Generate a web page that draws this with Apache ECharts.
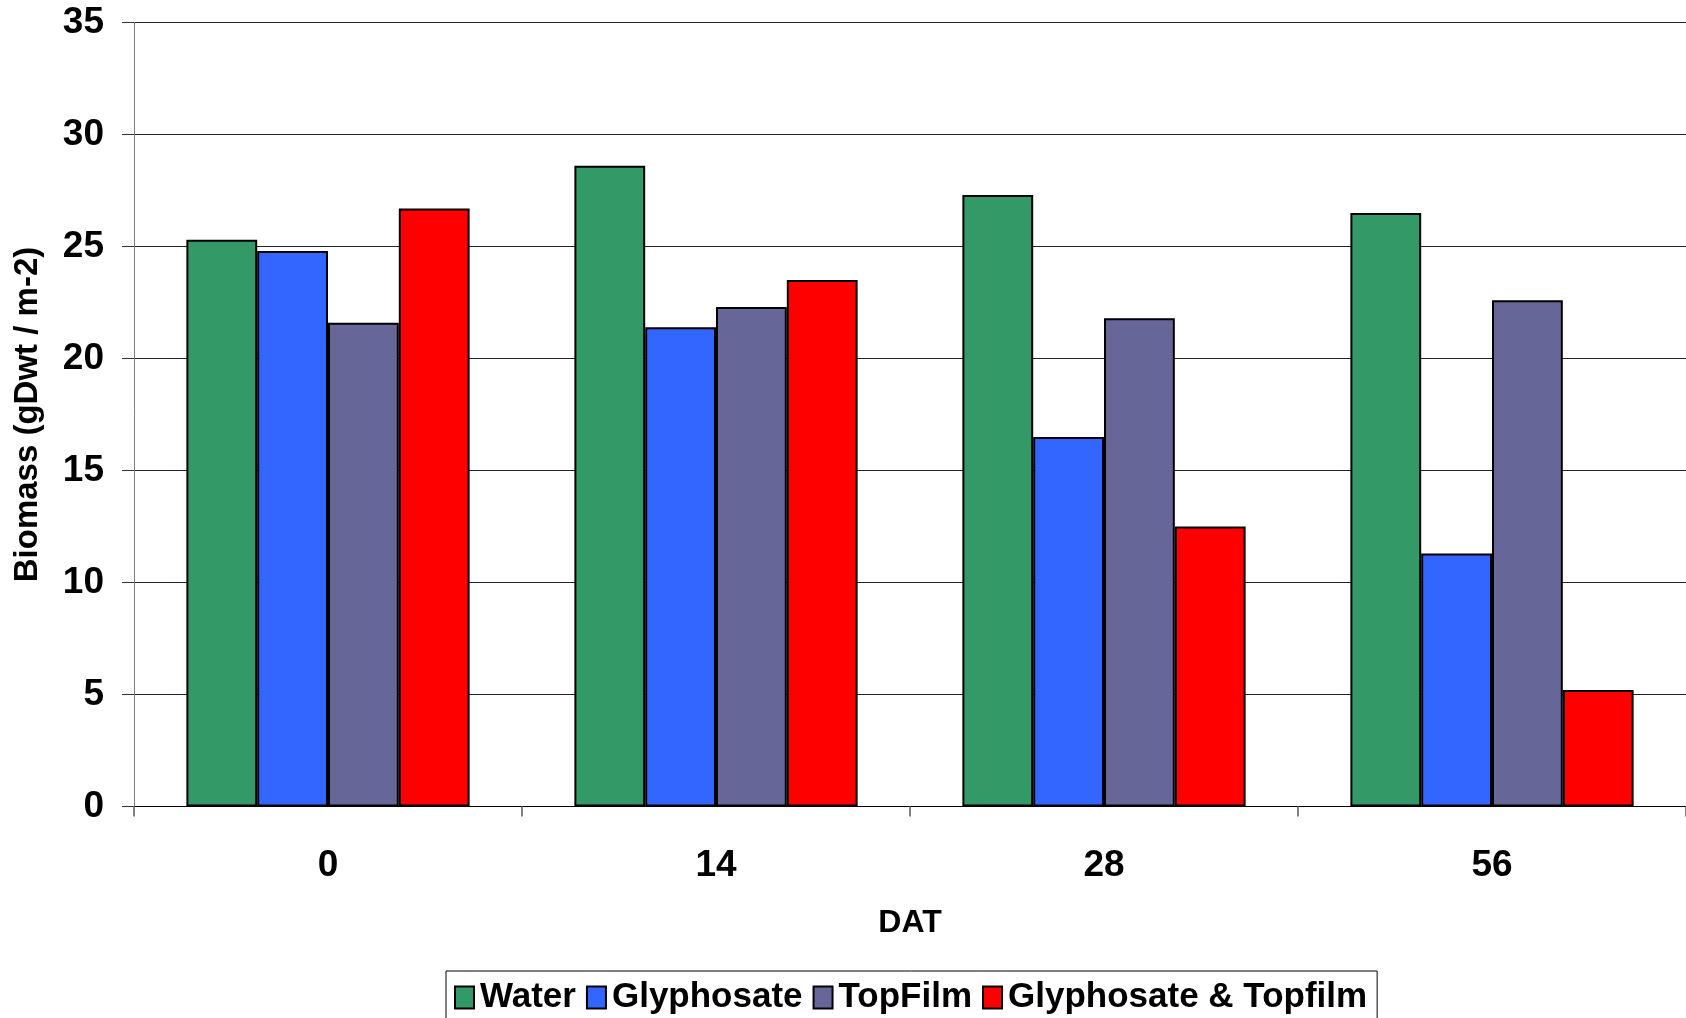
<!DOCTYPE html>
<html><head><meta charset="utf-8">
<script src="https://cdn.jsdelivr.net/npm/echarts@6/dist/echarts.min.js"></script>
<style>html,body{margin:0;padding:0;background:#fff;overflow:hidden}#c{width:1686px;height:1018px}</style>
</head><body><div id="c"></div>
<script>
const categories = ['0', '14', '28', '56'];
const water = [25.3, 28.6, 27.3, 26.5];
const glyphosate = [24.8, 21.4, 16.5, 11.3];
const topFilm = [21.6, 22.3, 21.8, 22.6];
const glyTop = [26.7, 23.5, 12.5, 5.2];
const seriesNames = ['Water', 'Glyphosate', 'TopFilm', 'Glyphosate & Topfilm'];
const colors = ['#339966', '#3366FF', '#666699', '#FF0000'];
const yTicks = [0, 5, 10, 15, 20, 25, 30, 35];

const font = '"Liberation Sans", Arial, sans-serif';
const chart = echarts.init(document.getElementById('c'));
const dataSets = [water, glyphosate, topFilm, glyTop];
chart.setOption({
  animation: false,
  grid: { left: 134, width: 1558, top: 22.5, bottom: 211.5, containLabel: false },
  legend: {
    data: seriesNames,
    left: 446, top: 971,
    orient: 'horizontal',
    icon: 'rect',
    borderColor: '#000', borderWidth: 1,
    padding: [9, 10, 30, 8],
    itemWidth: 19, itemHeight: 22, itemGap: 10,
    textStyle: { fontFamily: font, fontWeight: 'bold', fontSize: 35, color: '#000', padding: [0, 0, 0, 1] }
  },
  xAxis: {
    type: 'category', data: categories,
    name: 'DAT', nameLocation: 'middle', nameGap: 101,
    nameTextStyle: { fontFamily: font, fontWeight: 'bold', fontSize: 32, color: '#000' },
    axisLine: { lineStyle: { color: '#000', width: 1 } },
    axisTick: { show: true, length: 10, lineStyle: { color: '#808080', width: 2 } },
    axisLabel: { margin: 41, fontFamily: font, fontWeight: 'bold', fontSize: 37, color: '#000' },
    splitLine: { show: false }
  },
  yAxis: {
    type: 'value', min: 0, max: 35, interval: 5,
    name: 'Biomass (gDwt / m-2)', nameLocation: 'middle', nameGap: 90, nameRotate: 90,
    nameTextStyle: { fontFamily: font, fontWeight: 'bold', fontSize: 33, color: '#000' },
    axisLine: { show: true, lineStyle: { color: '#808080', width: 1 } },
    axisTick: { show: true, length: 12, lineStyle: { color: '#333', width: 1 } },
    axisLabel: { margin: 30, fontFamily: font, fontWeight: 'bold', fontSize: 37, color: '#000',
      formatter: v => yTicks.includes(v) ? String(v) : '' },
    splitLine: { show: true, lineStyle: { color: '#222', width: 1 } }
  },
  series: seriesNames.map((n, i) => ({
    name: n, type: 'bar', data: dataSets[i],
    barGap: '0%', barCategoryGap: '27%',
    itemStyle: { color: colors[i], borderColor: '#000', borderWidth: 2 }
  }))
});
</script></body></html>
